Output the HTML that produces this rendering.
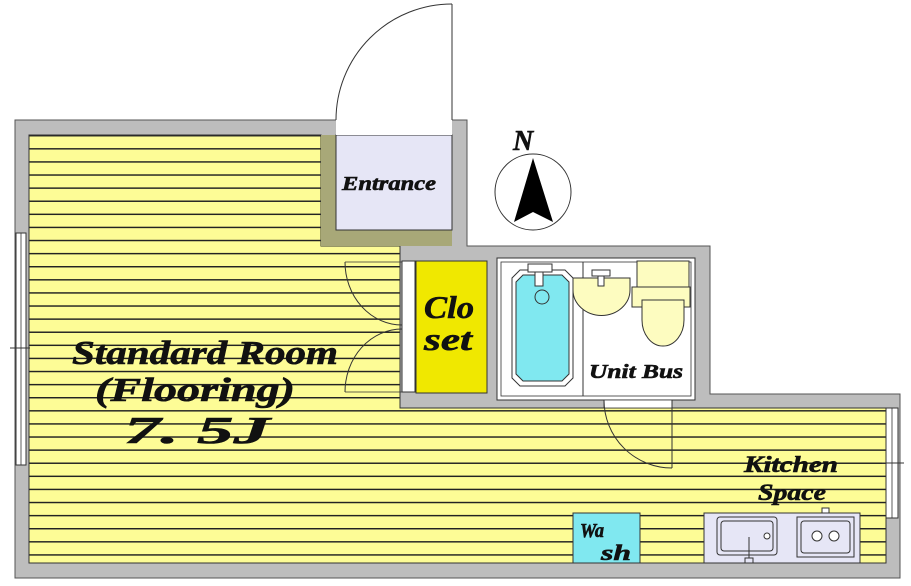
<!DOCTYPE html>
<html><head><meta charset="utf-8"><style>
html,body{margin:0;padding:0;background:#fff;width:911px;height:586px;overflow:hidden}
text{font-family:"Liberation Serif",serif;font-weight:bold;font-style:italic;fill:#111;stroke:#111;stroke-width:0.6}
</style></head><body>
<svg width="911" height="586" viewBox="0 0 911 586" xmlns="http://www.w3.org/2000/svg">
<defs>
<pattern id="st" x="0" y="135" width="10" height="13.1" patternUnits="userSpaceOnUse">
<rect width="10" height="13.1" fill="#fdfc96"/>
<line x1="0" y1="0.7" x2="10" y2="0.7" stroke="#222" stroke-width="1.5"/>
</pattern>
</defs>
<path d="M15,120 H467 V246 H710 V394 H900 V578 H15 Z" fill="#bdbdbd" stroke="#555" stroke-width="1"/>
<path d="M29,135 H321 V246 H400 V408 H886 V563 H29 Z" fill="url(#st)" stroke="#333" stroke-width="1"/>
<rect x="321" y="135" width="131" height="111" fill="#a8a878"/>
<rect x="336" y="135" width="116" height="95" fill="#e6e6f6" stroke="#333" stroke-width="1"/>
<rect x="336" y="119" width="116" height="16" fill="#fff"/>
<path d="M336,120 A116,116 0 0 1 452,4" fill="none" stroke="#333" stroke-width="1"/>
<line x1="452" y1="4" x2="452" y2="120" stroke="#333"/>
<text x="342" y="190" font-size="20" textLength="94" lengthAdjust="spacingAndGlyphs">Entrance</text>
<rect x="402" y="261" width="13" height="131" fill="#fff" stroke="#333"/>
<rect x="416" y="261" width="71" height="132" fill="#f0e800" stroke="#333"/>
<text x="424" y="318" font-size="32" textLength="50" lengthAdjust="spacingAndGlyphs">Clo</text>
<text x="424" y="350" font-size="32" textLength="48" lengthAdjust="spacingAndGlyphs">set</text>
<path d="M345,262 A57,63 0 0 0 402,325" fill="none" stroke="#333"/>
<path d="M345,392 A57,63 0 0 1 402,329" fill="none" stroke="#333"/>
<line x1="345" y1="262" x2="402" y2="262" stroke="#333" stroke-width="0.8"/>
<line x1="345" y1="392" x2="402" y2="392" stroke="#333" stroke-width="0.8"/>
<rect x="497" y="258" width="198" height="142" fill="#fff" stroke="#333"/>
<rect x="501" y="262" width="190" height="134" fill="#fff" stroke="#333" stroke-width="0.8"/>
<path d="M512,278 L520,270 H565 L573,278 V378 L565,386 H520 L512,378 Z" fill="#fff" stroke="#333"/>
<path d="M516,282 L523,275 H562 L569,282 V374 L562,381 H523 L516,374 Z" fill="#80e8f0" stroke="#333"/>
<rect x="528" y="264" width="24" height="8" fill="#fff" stroke="#333"/>
<rect x="535" y="272" width="8" height="14" fill="#fff" stroke="#333"/>
<circle cx="542" cy="297" r="7" fill="#80e8f0" stroke="#333"/>
<line x1="583" y1="262" x2="583" y2="396" stroke="#333"/>
<path d="M573,278 H630 V290 A28,25 0 0 1 573,290 Z" fill="#fdfcc0" stroke="#333"/>
<rect x="592" y="270" width="18" height="6" fill="#fff" stroke="#333"/>
<rect x="598" y="276" width="6" height="10" fill="#fff" stroke="#333"/>
<rect x="637" y="261" width="52" height="26" fill="#fdfcc0" stroke="#333"/>
<rect x="632" y="287" width="58" height="20" fill="#fdfcc0" stroke="#333"/>
<path d="M642,300 H684 V320 A21,26 0 0 1 642,320 Z" fill="#fdfcc0" stroke="#333"/>
<text x="589" y="378" font-size="20" textLength="94" lengthAdjust="spacingAndGlyphs">Unit  Bus</text>
<rect x="604" y="400" width="68" height="8" fill="#fff" stroke="#333" stroke-width="0.8"/>
<path d="M604,400 A68,68 0 0 0 672,468" fill="none" stroke="#333"/>
<line x1="672" y1="400" x2="672" y2="468" stroke="#333"/>
<rect x="16" y="233" width="10" height="232" fill="#fff" stroke="#333"/>
<line x1="21" y1="233" x2="21" y2="465" stroke="#333" stroke-width="0.8"/>
<line x1="10" y1="348" x2="30" y2="348" stroke="#333"/>
<rect x="886" y="408" width="12" height="110" fill="#fff" stroke="#333"/>
<line x1="892" y1="408" x2="892" y2="518" stroke="#333" stroke-width="0.8"/>
<line x1="882" y1="463" x2="904" y2="463" stroke="#333"/>
<rect x="573" y="513" width="67" height="50" fill="#80e8f0" stroke="#333"/>
<text x="580" y="537" font-size="20" textLength="24" lengthAdjust="spacingAndGlyphs">Wa</text>
<text x="601" y="560" font-size="22" textLength="30" lengthAdjust="spacingAndGlyphs">sh</text>
<rect x="704" y="513" width="156" height="50" fill="#e6e6f6" stroke="#333"/>
<rect x="717" y="517" width="60" height="38" rx="3" fill="#e6e6f6" stroke="#333"/>
<rect x="721" y="521" width="52" height="30" rx="3" fill="#e6e6f6" stroke="#333"/>
<circle cx="767" cy="536" r="3" fill="#fff" stroke="#333"/>
<line x1="749" y1="537" x2="749" y2="560" stroke="#333"/>
<rect x="745" y="558" width="8" height="5" fill="#e6e6f6" stroke="#333"/>
<rect x="797" y="517" width="57" height="40" fill="#e6e6f6" stroke="#333"/>
<rect x="801" y="521" width="49" height="32" rx="3" fill="#e6e6f6" stroke="#333"/>
<circle cx="817" cy="536" r="5" fill="#fff" stroke="#333"/>
<circle cx="834" cy="536" r="5" fill="#fff" stroke="#333"/>
<rect x="822" y="508" width="7" height="5" fill="#fff" stroke="#333"/>
<text x="744" y="472" font-size="23" textLength="94" lengthAdjust="spacingAndGlyphs">Kitchen</text>
<text x="758" y="500" font-size="23" textLength="68" lengthAdjust="spacingAndGlyphs">Space</text>
<text x="72" y="364" font-size="34" textLength="266" lengthAdjust="spacingAndGlyphs">Standard Room</text>
<text x="95" y="401" font-size="34" textLength="200" lengthAdjust="spacingAndGlyphs">(Flooring)</text>
<text x="124" y="443" font-size="38" textLength="146" lengthAdjust="spacingAndGlyphs">7.  5J</text>
<text x="513" y="150" font-size="28">N</text>
<circle cx="533" cy="192" r="38" fill="#fff" stroke="#333"/>
<path d="M533,158 L514,222 L533,212 L553,222 Z" fill="#000"/>
</svg>
</body></html>
